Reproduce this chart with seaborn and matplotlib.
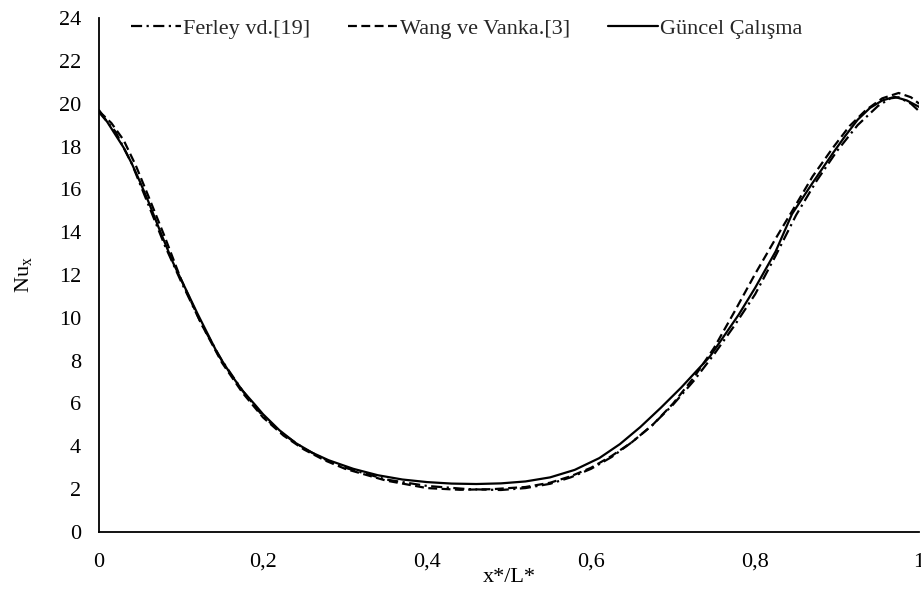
import numpy as np
import pandas as pd
import matplotlib
matplotlib.use("Agg")
import matplotlib.pyplot as plt
import seaborn as sns

# ---- data ----
x_ferley = [0.0, 0.02, 0.04, 0.06, 0.08, 0.10, 0.125, 0.15, 0.175, 0.20, 0.225, 0.25, 0.275, 0.30,
            0.35, 0.40, 0.45, 0.49, 0.52, 0.55, 0.575, 0.60, 0.625, 0.65, 0.675, 0.70, 0.725,
            0.75, 0.775, 0.80, 0.825, 0.85, 0.875, 0.90, 0.925, 0.95, 0.965, 0.975, 0.99, 1.0]
nu_ferley = [19.6, 18.7, 17.2, 15.3, 13.4, 11.7, 9.7, 8.0, 6.6, 5.4, 4.55, 3.9, 3.4, 3.0,
             2.45, 2.15, 2.0, 1.96, 2.05, 2.25, 2.55, 2.95, 3.5, 4.2, 5.0, 5.95, 7.05,
             8.3, 9.65, 11.1, 12.9, 14.8, 16.4, 17.8, 19.0, 19.9, 20.25, 20.3, 20.0, 19.65]

x_wang = [0.0, 0.015, 0.03, 0.045, 0.06, 0.08, 0.10, 0.125, 0.15, 0.175, 0.20, 0.225, 0.25,
          0.275, 0.30, 0.35, 0.40, 0.44, 0.48, 0.52, 0.55, 0.575, 0.60, 0.625, 0.65, 0.675,
          0.70, 0.725, 0.75, 0.775, 0.80, 0.825, 0.85, 0.87, 0.895, 0.915, 0.935, 0.955,
          0.975, 0.99, 1.0]
nu_wang = [19.65, 19.1, 18.3, 17.1, 15.7, 13.8, 11.8, 9.7, 7.9, 6.5, 5.35, 4.5, 3.85,
           3.35, 2.95, 2.4, 2.05, 1.97, 2.0, 2.1, 2.3, 2.6, 3.0, 3.55, 4.2, 5.0,
           6.0, 7.2, 8.6, 10.3, 12.05, 13.7, 15.3, 16.6, 17.95, 18.95, 19.7, 20.25,
           20.5, 20.3, 20.0]

x_guncel = [0.0, 0.01, 0.02, 0.03, 0.04, 0.05, 0.06, 0.075, 0.09, 0.10, 0.12, 0.145, 0.16,
            0.175, 0.19, 0.20, 0.22, 0.24, 0.26, 0.28, 0.31, 0.34, 0.37, 0.40, 0.43, 0.46,
            0.49, 0.52, 0.55, 0.58, 0.61, 0.635, 0.66, 0.685, 0.71, 0.745, 0.78, 0.80,
            0.825, 0.845, 0.87, 0.895, 0.91, 0.925, 0.94, 0.955, 0.97, 0.985, 1.0]
nu_guncel = [19.7, 19.15, 18.55, 17.95, 17.2, 16.35, 15.45, 14.0, 12.6, 11.8, 10.2, 8.3, 7.4,
             6.6, 5.95, 5.5, 4.75, 4.15, 3.7, 3.35, 2.95, 2.65, 2.45, 2.33, 2.26, 2.24,
             2.27, 2.36, 2.55, 2.9, 3.45, 4.1, 4.9, 5.8, 6.75, 8.2, 10.15, 11.4,
             13.1, 14.85, 16.3, 17.7, 18.5, 19.25, 19.8, 20.15, 20.32, 20.15, 19.85]

series_names = ["Ferley vd.[19]", "Wang ve Vanka.[3]", "Güncel Çalışma"]
x_ticks = [0, 0.2, 0.4, 0.6, 0.8, 1.0]
x_ticklabels = ["0", "0,2", "0,4", "0,6", "0,8", "1"]
y_ticks = list(range(0, 25, 2))

sns.set_theme(style="white")
plt.rcParams["font.family"] = ["Liberation Serif", "DejaVu Serif"]
plt.rcParams["mathtext.fontset"] = "custom"
plt.rcParams["mathtext.rm"] = "Liberation Serif"
plt.rcParams["mathtext.it"] = "Liberation Serif:italic"

FS = 16
fig = plt.figure(figsize=(9.21, 5.89), dpi=100)
ax = fig.add_axes([0.1075, 0.0968, 0.8905, 0.8726])

df = pd.concat([
    pd.DataFrame({"x": x_ferley, "Nu": nu_ferley, "s": series_names[0]}),
    pd.DataFrame({"x": x_wang, "Nu": nu_wang, "s": series_names[1]}),
    pd.DataFrame({"x": x_guncel, "Nu": nu_guncel, "s": series_names[2]}),
])

styles = {series_names[0]: (5, 2, 1, 2), series_names[1]: (4, 2), series_names[2]: ""}
sns.lineplot(data=df, x="x", y="Nu", hue="s", style="s", dashes=styles,
             palette=["black", "black", "black"], linewidth=1.6, sort=False,
             estimator=None, ax=ax, legend=True)

ax.set_xlim(0, 1)
ax.set_ylim(0, 24)
ax.set_xticks(x_ticks)
ax.set_xticklabels(x_ticklabels)
ax.set_yticks(y_ticks)
ax.tick_params(axis="both", direction="in", length=5, width=1.2, colors="black",
               labelsize=FS, pad=13)
ax.tick_params(axis="x", pad=15)
for sp in ["top", "right"]:
    ax.spines[sp].set_visible(False)
for sp in ["left", "bottom"]:
    ax.spines[sp].set_color("black")
    ax.spines[sp].set_linewidth(1.3)

ax.set_xlabel("x*/L*", fontsize=FS, labelpad=-3, color="black")
ax.set_ylabel(r"Nu$_{\mathregular{x}}$", fontsize=FS, labelpad=18, color="black")

handles, labels = ax.get_legend_handles_labels()
ax.legend(handles, labels, loc="center", bbox_to_anchor=(0.507, 0.952),
          bbox_transform=fig.transFigure, ncol=3, frameon=False, fontsize=FS,
          handlelength=2.25, handletextpad=0.1, columnspacing=1.7)

fig.savefig("out.png", dpi=100)
